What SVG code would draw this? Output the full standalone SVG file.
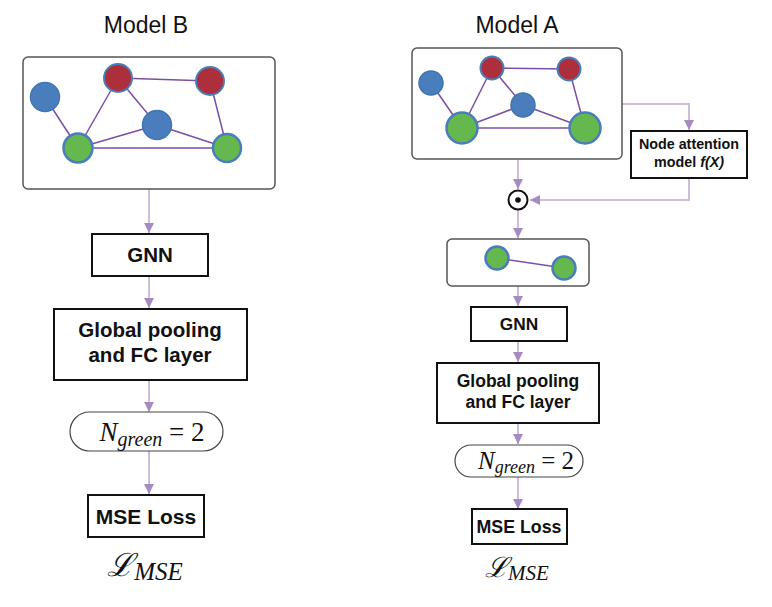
<svg xmlns="http://www.w3.org/2000/svg" width="772" height="607" viewBox="0 0 772 607">
<defs>
<marker id="ah" viewBox="0 0 10 10" refX="10" refY="5" markerWidth="10" markerHeight="10" markerUnits="userSpaceOnUse" orient="auto">
<path d="M0,0 L10,5 L0,10 z" fill="#a68bc0"/>
</marker>
<style>
.title{font-family:"Liberation Sans",Arial,sans-serif;font-size:23px;fill:#111;text-anchor:middle}
.frame{fill:#fff;stroke:#555;stroke-width:1.5}
.box{fill:#fff;stroke:#111;stroke-width:2}
.lbl{font-family:"Liberation Sans",Arial,sans-serif;font-weight:bold;fill:#111;text-anchor:middle}
.math{font-family:"Liberation Serif","Times New Roman",serif;fill:#111}
.conn{fill:none;stroke:#cdbcdc;stroke-width:2}
.edge{stroke:#7b4fa3;stroke-width:1.5}
.blue{fill:#4a7dbb;stroke:#3f75b5;stroke-width:1.5}
.red{fill:#ad2f3c;stroke:#4a7dbb;stroke-width:2}
.green{fill:#65b84d;stroke:#4a7dbb;stroke-width:2.5}
</style>
</defs>
<rect width="772" height="607" fill="#fff"/>

<text class="title" x="146" y="33">Model B</text>
<text class="title" x="517" y="33">Model A</text>

<g id="connectors">
<line class="conn" x1="149" y1="189" x2="149" y2="233" marker-end="url(#ah)"/>
<line class="conn" x1="149" y1="276" x2="149" y2="308" marker-end="url(#ah)"/>
<line class="conn" x1="149" y1="380" x2="149" y2="412" marker-end="url(#ah)"/>
<line class="conn" x1="149" y1="451" x2="149" y2="494" marker-end="url(#ah)"/>

<polyline class="conn" points="622,104 689,104 689,130" marker-end="url(#ah)"/>
<polyline class="conn" points="689,178 689,200 530,200" marker-end="url(#ah)"/>
<line class="conn" x1="518" y1="160" x2="518" y2="189" marker-end="url(#ah)"/>
<line class="conn" x1="518" y1="210" x2="518" y2="238" marker-end="url(#ah)"/>
<line class="conn" x1="518" y1="286" x2="518" y2="306" marker-end="url(#ah)"/>
<line class="conn" x1="518" y1="341" x2="518" y2="362" marker-end="url(#ah)"/>
<line class="conn" x1="518" y1="423" x2="518" y2="444" marker-end="url(#ah)"/>
<line class="conn" x1="518" y1="477" x2="518" y2="509" marker-end="url(#ah)"/>
</g>

<g id="graphB">
<rect class="frame" x="23" y="57" width="252" height="132" rx="5"/>
<line class="edge" x1="45" y1="97" x2="78" y2="148"/>
<line class="edge" x1="118" y1="78" x2="78" y2="148"/>
<line class="edge" x1="118" y1="78" x2="157" y2="125"/>
<line class="edge" x1="118" y1="78" x2="210" y2="81"/>
<line class="edge" x1="210" y1="81" x2="227" y2="148"/>
<line class="edge" x1="78" y1="148" x2="157" y2="125"/>
<line class="edge" x1="78" y1="148" x2="227" y2="148"/>
<line class="edge" x1="157" y1="125" x2="227" y2="148"/>
<circle class="blue" cx="45" cy="97" r="14.5"/>
<circle class="red" cx="118" cy="78" r="14"/>
<circle class="red" cx="210" cy="81" r="14"/>
<circle class="blue" cx="157" cy="125" r="14.5"/>
<circle class="green" cx="78" cy="148" r="14.5"/>
<circle class="green" cx="227" cy="148" r="14"/>
</g>

<g id="gnnB">
<rect class="box" x="92" y="234" width="116" height="42"/>
<text class="lbl" x="150" y="262" font-size="20.5">GNN</text>
</g>

<g id="poolB">
<rect class="box" x="54" y="309" width="193" height="71"/>
<text class="lbl" x="150" y="337" font-size="20.5">Global pooling</text>
<text class="lbl" x="150" y="362" font-size="20.5">and FC layer</text>
</g>

<g id="countB">
<rect x="70" y="412" width="153" height="39" rx="19.5" fill="#fff" stroke="#444" stroke-width="1.2"/>
<text class="math" x="152" y="441" text-anchor="middle" font-size="27"><tspan font-style="italic">N</tspan><tspan font-style="italic" font-size="20" dy="5">green</tspan><tspan dy="-5"> = 2</tspan></text>
</g>

<g id="mseB">
<rect class="box" x="88" y="495" width="116" height="42"/>
<text class="lbl" x="146" y="524" font-size="21">MSE Loss</text>
<text class="math" x="145" y="576" text-anchor="middle" font-size="32"><tspan font-family="'DejaVu Serif',serif" font-style="italic">ℒ</tspan><tspan font-style="italic" font-size="25" dy="4">MSE</tspan></text>
</g>

<g id="graphA">
<rect class="frame" x="412" y="48" width="210" height="111" rx="5"/>
<line class="edge" x1="431" y1="83" x2="462" y2="128"/>
<line class="edge" x1="492" y1="68" x2="462" y2="128"/>
<line class="edge" x1="492" y1="68" x2="523" y2="105"/>
<line class="edge" x1="492" y1="68" x2="569" y2="69"/>
<line class="edge" x1="569" y1="69" x2="585" y2="128"/>
<line class="edge" x1="462" y1="128" x2="523" y2="105"/>
<line class="edge" x1="462" y1="128" x2="585" y2="128"/>
<line class="edge" x1="523" y1="105" x2="585" y2="128"/>
<circle class="blue" cx="431" cy="83" r="12"/>
<circle class="red" cx="492" cy="68" r="11.5"/>
<circle class="red" cx="569" cy="69" r="11.5"/>
<circle class="blue" cx="523" cy="105" r="12"/>
<circle class="green" cx="462" cy="128" r="15.5" stroke-width="3"/>
<circle class="green" cx="585" cy="128" r="15.5" stroke-width="3"/>
</g>

<g id="attention">
<rect class="box" x="631" y="131" width="116" height="47"/>
<text class="lbl" x="689" y="149" font-size="14.3">Node attention</text>
<text class="lbl" x="689" y="167" font-size="14.3">model <tspan font-style="italic">f(X)</tspan></text>
</g>

<g id="odot">
<circle cx="518" cy="200" r="9.5" fill="#fff" stroke="#111" stroke-width="2"/>
<circle cx="518" cy="200" r="2.8" fill="#111"/>
</g>

<g id="graphA2">
<rect class="frame" x="447" y="239" width="142" height="47" rx="5"/>
<line class="edge" x1="497" y1="258" x2="564" y2="268"/>
<circle class="green" cx="497" cy="258" r="11.5" stroke-width="1.5"/>
<circle class="green" cx="564" cy="268" r="11.5" stroke-width="1.5"/>
</g>

<g id="gnnA">
<rect class="box" x="471" y="307" width="96" height="34"/>
<text class="lbl" x="519" y="330" font-size="17.3">GNN</text>
</g>

<g id="poolA">
<rect class="box" x="437" y="363" width="162" height="60"/>
<text class="lbl" x="518" y="387" font-size="17.5">Global pooling</text>
<text class="lbl" x="518" y="408" font-size="17.5">and FC layer</text>
</g>

<g id="countA">
<rect x="455" y="445" width="128" height="32" rx="16" fill="#fff" stroke="#444" stroke-width="1.2"/>
<text class="math" x="526" y="469" text-anchor="middle" font-size="25"><tspan font-style="italic">N</tspan><tspan font-style="italic" font-size="18" dy="4">green</tspan><tspan dy="-4"> = 2</tspan></text>
</g>

<g id="mseA">
<rect class="box" x="472" y="509" width="95" height="35"/>
<text class="lbl" x="519" y="533" font-size="17.8">MSE Loss</text>
<text class="math" x="517" y="577" text-anchor="middle" font-size="28"><tspan font-family="'DejaVu Serif',serif" font-style="italic">ℒ</tspan><tspan font-style="italic" font-size="21" dy="3">MSE</tspan></text>
</g>
</svg>
